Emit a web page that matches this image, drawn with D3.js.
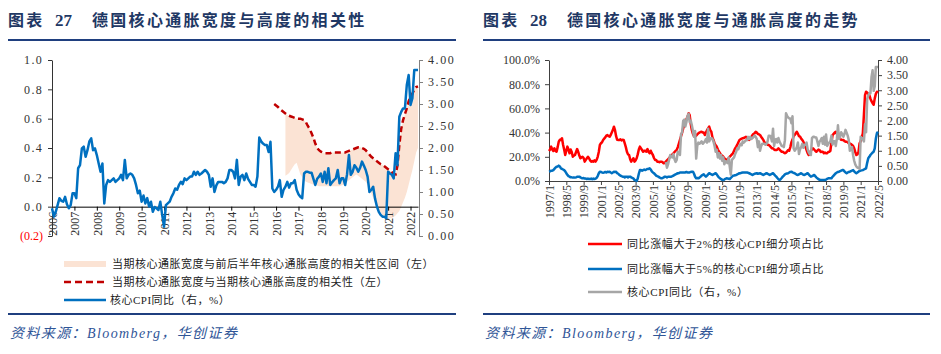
<!DOCTYPE html>
<html>
<head>
<meta charset="utf-8">
<script src="https://cdn.jsdelivr.net/npm/d3@7"></script>
<style>
  body { margin: 0; background: #fff; }
  svg { display: block; font-family: "Liberation Serif", "Noto Sans CJK SC", serif; }
</style>
</head>
<body>
<svg id="chart" width="941" height="354"></svg>
<script>
// ---- data ----
// core CPI yoy, monthly from 2006/1 (right axis of both charts)
var coreCpi = [
  0.63,0.44,0.55,0.70,0.86,0.80,0.78,0.89,0.72,0.63,0.70,0.97,
  0.97,0.86,1.54,1.61,1.99,2.03,1.80,1.95,2.15,2.22,1.95,1.99,
  1.84,1.65,1.46,1.65,0.74,1.16,1.27,1.23,1.27,1.31,1.23,1.27,
  1.31,1.39,1.27,1.73,1.31,1.39,1.42,1.39,1.31,1.16,0.97,1.03,
  0.78,0.92,0.74,0.86,0.67,0.78,0.55,0.66,0.63,0.59,0.78,0.48,
  0.21,0.70,0.74,0.78,0.89,0.97,1.08,1.05,1.16,1.23,1.18,1.31,
  1.27,1.31,1.35,1.35,1.46,1.39,1.46,1.39,1.42,1.46,1.50,1.46,
  1.39,1.12,1.31,1.00,1.15,1.23,1.23,1.23,1.20,1.23,1.31,1.50,
  1.50,1.46,1.31,1.73,1.16,1.35,1.39,1.27,1.42,1.30,1.23,1.16,
  1.16,1.12,1.35,2.24,2.15,2.10,2.07,2.07,1.91,2.14,1.08,1.00,
  1.05,1.12,1.27,0.89,1.05,1.12,1.23,1.10,1.20,1.20,1.27,1.05,
  0.95,0.89,0.86,1.42,1.46,1.46,1.44,1.44,1.30,1.16,1.30,1.35,
  1.42,1.23,1.46,1.20,1.54,1.16,1.22,1.27,1.31,1.50,1.20,1.31,
  1.31,1.16,1.40,1.84,1.39,1.46,1.61,1.55,1.46,1.55,1.69,1.60,
  1.50,1.35,1.00,1.05,1.12,0.85,0.67,0.55,0.48,0.44,0.44,0.40,
  1.46,1.42,1.39,1.31,1.88,1.61,2.71,2.82,2.90,2.90,3.43,3.66,
  2.98,3.13,3.77,3.77,3.77
];

// correlation of breadth and height (left axis), monthly from 2015/12
var corr = [
  0.70,0.69,0.68,0.665,0.655,0.645,0.635,0.625,0.62,0.615,0.61,0.605,
  0.60,0.60,0.60,0.595,0.59,0.575,0.55,0.53,0.50,0.47,0.43,0.40,
  0.385,0.375,0.37,0.365,0.365,0.365,0.365,0.37,0.37,0.37,0.37,0.37,
  0.37,0.37,0.37,0.375,0.38,0.385,0.39,0.395,0.40,0.405,0.405,0.40,
  0.395,0.385,0.37,0.355,0.34,0.33,0.32,0.31,0.30,0.29,0.285,0.275,
  0.265,0.255,0.245,0.235,0.225,0.22,0.28,0.42,0.53,0.59,0.63,0.67,
  0.72,0.75,0.77,0.80,0.815,0.82
];

// correlation range vs +/- half year (left axis), monthly from 2016/6
var bandLow = [
  0.21,0.22,0.23,0.25,0.27,0.29,0.30,0.26,0.22,0.20,0.18,0.17,
  0.165,0.16,0.155,0.15,0.15,0.145,0.14,0.14,0.14,0.14,0.14,0.14,
  0.14,0.14,0.14,0.14,0.14,0.14,0.145,0.15,0.16,0.17,0.18,0.19,
  0.20,0.21,0.22,0.21,0.20,0.19,0.18,0.17,0.15,0.12,0.09,0.06,
  0.03,0.00,-0.02,-0.04,-0.055,-0.065,-0.075,-0.08,-0.08,-0.075,-0.07,-0.06,
  -0.045,-0.03,0.00,0.03,0.06,0.10,0.15,0.20,0.25,0.31,0.37,0.40
];
var bandHigh = corr.slice(6);

// share of core CPI items with yoy > 2% / > 5%, monthly from 1997/1 (%)
var share2 = [
  24.8,26,28.4,26,24.8,27,25,24.2,28,32.5,
  34,33.9,35.3,30,26,21.5,25,28.4,26,22.9,
  26,24,20.1,21,21.5,24,26.4,24,21,18.8,
  19.5,20.1,19,16,17.4,18.8,20,18.8,17,16,
  16.5,16,17,16,17.4,20,24,29.8,31.2,32,
  33.9,35,36,37.5,38,37,36.6,38,40,42.1,
  44.9,42,37,34,33.9,33.9,34.5,33.5,34,33.9,
  31,28,24.2,22,21.5,18,16,17.4,18.8,16,
  17,18.8,22,26,28.4,27,25.6,24.2,25,25,
  24.2,26.4,24,22.9,25,23,21.5,19,17.4,17.4,
  16,16,15.5,16,16,15.5,14.6,15,16,17,
  18,19,20,21,22,22.9,24,25,25.6,28,
  31,33.9,37,40,43.5,46,49,51,53,56,
  54.5,47,42,39,37,36.6,37.5,38.5,39.4,40,
  40.5,40.7,40,40,38,40,42,43.5,45,42,
  40.7,36,33.9,31,29.5,28.4,26,24.5,22.9,21.5,
  21,20.1,19,18,17.4,18,19,20.1,21,22,
  22.9,25,27,28.4,30,32,33.9,34.5,35,35.3,
  35.5,36,36.6,35.5,34.5,34,35,36,38,39,
  39.4,40.7,40,39,38.5,38,36.6,35.3,34,32,
  31.2,31,30,29.8,29,28,27,27,26,25.6,
  25.6,26,27,26,25,24.2,24.2,23.5,23,23.5,
  24.5,25.6,25,28,32,34,37,38,39.4,40.7,
  39,37,36.6,35,34,32.5,30,28,25.6,23,
  21.5,23,25,26,27,26,25,24.2,25,26,
  25.6,24,24.2,24.2,23,23.5,22.9,23,24,24.2,
  25,32,38,39,40,40.7,39,38,36.6,35,
  34,33.9,33.9,33,32.5,32.5,32,31.2,31,30.5,
  29.8,29,27,24,21.5,22,24,31.2,33,36,
  39.4,55,71,73.8,73,72,71,68,66,64.2,
  63,68.3,72,73.8,73
];
var share5 = [
  7.7,8,8.5,8.5,9,10,11,11.8,12,12.7,
  12,10.5,10,9.5,9,8,6.4,5,4,3.6,
  3,3,2.8,3,2.8,3,3.5,3.6,3.6,3,
  2.5,2.2,2.5,2,2,1.6,2,1.6,1.6,2,
  1.5,2,1.6,2,2.5,4,6.4,7.7,7.5,7,
  6.9,7,7.5,7,7.7,7.5,7.7,7,6.5,7,
  7.7,7.5,7.7,6.5,6,5,4.5,4,3.6,3.6,
  3,3.6,3.6,3,3.6,3.6,3,2.5,2.2,0.8,
  0.5,0,2,6,9,9,8.5,9,9.5,9,
  9.5,10,10,10.5,9.5,8,7,6.4,5.5,4.5,
  4,3.6,3,2.5,2.2,2.5,3,3.6,3.5,3,
  3.5,3.6,3.5,3.6,4,4.5,5,5.5,6,6.4,
  6.5,7,7,7.1,7.1,7,7.1,7.5,7,7.1,
  7.1,7.5,7.7,7.7,6,3.5,2.2,2.5,2.2,2.8,
  3.5,4.5,5,5.5,4.5,3.6,4.5,5.5,6.4,6,
  5.5,5,5.5,6,6.4,5.5,4,3,2.2,1.5,
  1,0.8,1.2,1.8,2.2,2,1.8,1.6,2.5,3.5,
  4.4,4.5,4.8,5,5.5,6,6.4,6.5,6.8,7,
  7.1,7.1,7.1,7,6.8,6.4,6,5.5,5,5.5,
  6,6.2,6.4,6,6.2,6.4,6,5.5,5,5.5,
  6,6.4,6,5.5,5,5.5,6,6.4,5.5,4.5,
  3.6,2.5,1.5,0.8,1.5,2.5,3.6,4.5,5.5,6,
  6.2,6.4,7,7.5,7.7,7.2,6.8,6.4,5.8,5.2,
  5,5.5,6,6.4,5.8,5.2,5,5.5,6,6.4,
  5.5,4.5,3.6,4,4.5,5,4,3,2.2,1.5,
  1,0.8,0.8,0.8,0.8,0.8,1.2,1.8,2.2,2.2,
  2.2,2.2,3.5,4.5,5.5,6.4,7,7.5,7.7,8.2,
  8.6,9,9,8,7,6.4,7,7.5,7.7,8.2,
  8.6,9,8,7,6.4,7,7.8,8.3,8.6,8.8,
  9,9.5,10,10.5,15,18.8,20,21.5,22.5,23.5,
  24.2,27,35,39.4,40.7
];

var yearLabels = ["2006","2007","2008","2009","2010","2011","2012","2013","2014",
                  "2015","2016","2017","2018","2019","2020","2021","2022"];
var shareTicks = ["1997/1","1998/5","1999/9","2001/1","2002/5","2003/9","2005/1","2006/5",
                  "2007/9","2009/1","2010/5","2011/9","2013/1","2014/5","2015/9","2017/1",
                  "2018/5","2019/9","2021/1","2022/5"];
var leftTicks = [-0.2, 0, 0.2, 0.4, 0.6, 0.8, 1.0];
var cpiTicks = [0, 0.5, 1, 1.5, 2, 2.5, 3, 3.5, 4];
var pctTicks = [0, 20, 40, 60, 80, 100];

function monthList(y, m, n) {
  var a = [];
  for (var i = 0; i < n; i++) {
    a.push(y + "/" + m);
    m++;
    if (m > 12) { m = 1; y++; }
  }
  return a;
}
var coreMonths = monthList(2006, 1, coreCpi.length);
var corrMonths = monthList(2015, 12, corr.length);
var bandMonths = monthList(2016, 6, bandLow.length);
var shareMonths = monthList(1997, 1, share2.length);

// ---- common ----
var svg = d3.select("#chart");
var navy = "#1f3864", ruleCol = "#1f3f7f", srcCol = "#2f5597";
var cjk = '"Liberation Serif","Noto Sans CJK SC",serif';

svg.append("rect").attr("width", 941).attr("height", 354).attr("fill", "#fff");

function header(x0, num, text, x1) {
  var g = svg.append("g").attr("fill", navy).attr("font-weight", "bold");
  g.append("text").attr("x", x0).attr("y", 26).attr("font-size", "16px")
    .attr("letter-spacing", "2.3px").attr("font-family", '"Noto Sans CJK SC"').text("图表");
  g.append("text").attr("x", x0 + 47).attr("y", 26).attr("font-size", "17px").text(num);
  g.append("text").attr("x", x0 + 84).attr("y", 26).attr("font-size", "16px")
    .attr("letter-spacing", "2.3px").attr("font-family", '"Noto Sans CJK SC"').text(text);
  svg.append("line").attr("x1", x0).attr("x2", x1).attr("y1", 40).attr("y2", 40)
    .attr("stroke", ruleCol).attr("stroke-width", 2);
  svg.append("line").attr("x1", x0).attr("x2", x1).attr("y1", 314).attr("y2", 314)
    .attr("stroke", ruleCol).attr("stroke-width", 2);
  svg.append("text").attr("x", x0 + 2).attr("y", 338).attr("font-size", "14px")
    .attr("font-style", "italic").attr("fill", srcCol).attr("font-family", cjk)
    .attr("letter-spacing", "1.4px")
    .text("资料来源：Bloomberg，华创证券");
}
header(8, "27", "德国核心通胀宽度与高度的相关性", 456);
header(483, "28", "德国核心通胀宽度与通胀高度的走势", 930);

function styleAxis(g, col) {
  g.select(".domain").attr("stroke", col);
  g.selectAll(".tick line").attr("stroke", col);
  g.selectAll(".tick text").attr("fill", "#333").attr("font-size", "12px")
    .attr("font-family", '"Liberation Serif"');
}

// ---- chart 27 ----
var xL = d3.scalePoint().domain(coreMonths).range([52, 418]);
var yL = d3.scaleLinear().domain([-0.2, 1.0]).range([236, 60]);
var yR = d3.scaleLinear().domain([0, 4]).range([236, 60]);

var band = d3.area()
  .x(function(d, i) { return xL(bandMonths[i]); })
  .y0(function(d) { return yL(d[0]); })
  .y1(function(d) { return yL(d[1]); });
svg.append("path")
  .datum(bandLow.map(function(d, i) { return [d, bandHigh[i]]; }))
  .attr("d", band).attr("fill", "#fbe3d4");

var gx = svg.append("g").attr("transform", "translate(0," + yL(0) + ")")
  .call(d3.axisBottom(xL)
    .tickValues(yearLabels.map(function(y) { return y + "/1"; }))
    .tickFormat(function(d) { return d.split("/")[0]; })
    .tickSize(4).tickSizeOuter(0));
styleAxis(gx, "#000");
gx.selectAll(".tick text").attr("transform", "rotate(-90)")
  .attr("text-anchor", "end").attr("x", -5).attr("y", 0).attr("dy", "0.35em");

var gyl = svg.append("g").attr("transform", "translate(52,0)")
  .call(d3.axisLeft(yL).tickValues(leftTicks).tickSize(4).tickSizeOuter(0).tickPadding(5)
    .tickFormat(function(d) { return d < 0 ? "(" + (-d).toFixed(1) + ")" : d.toFixed(1); }));
styleAxis(gyl, "#333");
gyl.selectAll(".tick text").attr("letter-spacing", function(d) { return d < 0 ? "0px" : "1.3px"; })
  .attr("fill", function(d) { return d < 0 ? "#ff0000" : "#333"; });

var gyr = svg.append("g").attr("transform", "translate(419,0)")
  .call(d3.axisRight(yR).tickValues(cpiTicks).tickSize(4).tickSizeOuter(0).tickPadding(5)
    .tickFormat(d3.format(".2f")));
styleAxis(gyr, "#808080");
gyr.selectAll(".tick text").attr("letter-spacing", "1.6px");

var corrLine = d3.line()
  .x(function(d, i) { return xL(corrMonths[i]); })
  .y(function(d) { return yL(d); });
svg.append("path").datum(corr).attr("d", corrLine).attr("fill", "none")
  .attr("stroke", "#c00000").attr("stroke-width", 2.5).attr("stroke-dasharray", "6,3.5");

var coreLineL = d3.line()
  .x(function(d, i) { return xL(coreMonths[i]); })
  .y(function(d) { return yR(d); });
svg.append("path").datum(coreCpi).attr("d", coreLineL).attr("fill", "none")
  .attr("stroke", "#0070c0").attr("stroke-width", 2.5).attr("stroke-linejoin", "round");

// legend 27
var lg = svg.append("g").attr("font-size", "11px").attr("fill", "#222")
  .attr("font-family", cjk).attr("letter-spacing", "0.5px");
lg.append("rect").attr("x", 64).attr("y", 261).attr("width", 42).attr("height", 6).attr("fill", "#fbe3d4");
lg.append("text").attr("x", 112).attr("y", 268).text("当期核心通胀宽度与前后半年核心通胀高度的相关性区间（左）");
lg.append("line").attr("x1", 64).attr("x2", 106).attr("y1", 282).attr("y2", 282)
  .attr("stroke", "#c00000").attr("stroke-width", 2.5).attr("stroke-dasharray", "7,4");
lg.append("text").attr("x", 112).attr("y", 286).text("当期核心通胀宽度与当期核心通胀高度的相关性（左）");
lg.append("line").attr("x1", 64).attr("x2", 106).attr("y1", 300).attr("y2", 300)
  .attr("stroke", "#0070c0").attr("stroke-width", 2.5);
lg.append("text").attr("x", 110).attr("y", 304).text("核心CPI同比（右，%）");

// ---- chart 28 ----
var xS = d3.scalePoint().domain(shareMonths).range([549, 878]);
var yP = d3.scaleLinear().domain([0, 100]).range([181, 60]);
var yC = d3.scaleLinear().domain([0, 4]).range([181, 60]);

var gx2 = svg.append("g").attr("transform", "translate(0,181)")
  .call(d3.axisBottom(xS).tickValues(shareTicks).tickSize(4).tickSizeOuter(0));
styleAxis(gx2, "#404040");
gx2.selectAll(".tick text").attr("transform", "rotate(-90)")
  .attr("text-anchor", "end").attr("x", -4).attr("y", 0).attr("dy", "0.35em");

var gp = svg.append("g").attr("transform", "translate(549,0)")
  .call(d3.axisLeft(yP).tickValues(pctTicks).tickSize(4).tickSizeOuter(0).tickPadding(5)
    .tickFormat(function(d) { return d.toFixed(1) + "%"; }));
styleAxis(gp, "#404040");

var gc = svg.append("g").attr("transform", "translate(878,0)")
  .call(d3.axisRight(yC).tickValues(cpiTicks).tickSize(4).tickSizeOuter(0).tickPadding(5)
    .tickFormat(d3.format(".2f")));
styleAxis(gc, "#404040");

function shareLine(yScale) {
  return d3.line()
    .x(function(d, i) { return xS(shareMonths[i]); })
    .y(function(d) { return yScale(d); });
}
svg.append("path").datum(share2).attr("d", shareLine(yP)).attr("fill", "none")
  .attr("stroke", "#ff0000").attr("stroke-width", 2.5).attr("stroke-linejoin", "round");
svg.append("path").datum(share5).attr("d", shareLine(yP)).attr("fill", "none")
  .attr("stroke", "#0070c0").attr("stroke-width", 2.5).attr("stroke-linejoin", "round");
var coreLineR = d3.line()
  .x(function(d, i) { return xS(coreMonths[i]); })
  .y(function(d) { return yC(d); });
svg.append("path").datum(coreCpi).attr("d", coreLineR).attr("fill", "none")
  .attr("stroke", "#a6a6a6").attr("stroke-width", 2.5).attr("stroke-linejoin", "round");

// legend 28
var lg2 = svg.append("g").attr("font-size", "11px").attr("fill", "#222")
  .attr("font-family", cjk).attr("letter-spacing", "0.6px");
var items2 = [
  { label: "同比涨幅大于2%的核心CPI细分项占比", color: "#ff0000", y: 244 },
  { label: "同比涨幅大于5%的核心CPI细分项占比", color: "#0070c0", y: 269 },
  { label: "核心CPI同比（右，%）", color: "#a6a6a6", y: 292 }
];
items2.forEach(function(it) {
  lg2.append("line").attr("x1", 588).attr("x2", 622).attr("y1", it.y).attr("y2", it.y)
    .attr("stroke", it.color).attr("stroke-width", 2.5);
  lg2.append("text").attr("x", 627).attr("y", it.y + 4).text(it.label);
});
</script>
</body>
</html>
